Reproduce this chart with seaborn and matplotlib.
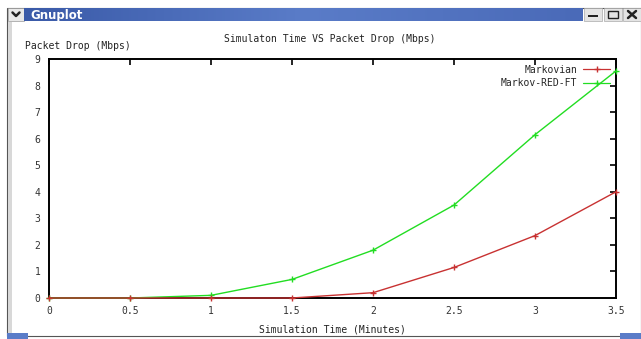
import matplotlib

matplotlib.use("Agg")

import matplotlib.pyplot as plt
import numpy as np
import pandas as pd
import seaborn as sns
from matplotlib.patches import Rectangle

# values
sim_time = [0, 0.5, 1, 1.5, 2, 2.5, 3, 3.5]
markovian = [0, 0, 0, 0, 0.2, 1.15, 2.35, 4.0]
markov_red_ft = [0, 0, 0.1, 0.7, 1.8, 3.5, 6.15, 8.55]
series_names = ["Markovian", "Markov-RED-FT"]
x_ticks = [0, 0.5, 1, 1.5, 2, 2.5, 3, 3.5]
y_ticks = list(range(10))

W, H = 641, 339
MONO = "DejaVu Sans Mono"

sns.set_style("white")
plt.rcParams["font.family"] = [MONO, "DejaVu Sans"]

df = pd.DataFrame(
    {
        "time": sim_time * 2,
        "drop": markovian + markov_red_ft,
        "series": [series_names[0]] * len(sim_time) + [series_names[1]] * len(sim_time),
    }
)

fig = plt.figure(figsize=(W / 100, H / 100), dpi=100)
fig.patch.set_facecolor("white")


def px_rect(x0, y0, x1, y1, zorder=-5, **kw):
    # rectangle in pixel coords (y from top), kept behind the axes
    fig.patches.append(
        Rectangle((x0 / W, 1 - y1 / H), (x1 - x0) / W, (y1 - y0) / H,
                  transform=fig.transFigure, figure=fig, zorder=zorder, **kw)
    )


def px_line(xs, ys, **kw):
    fig.lines.append(
        plt.Line2D([x / W for x in xs], [1 - y / H for y in ys],
                   transform=fig.transFigure, figure=fig, **kw)
    )


# window frame
px_rect(7, 8, 641, 336, zorder=-10, facecolor="white", edgecolor="#555555", lw=0.8)
px_rect(8, 22, 12, 335, facecolor="#d8d8d8", edgecolor="none")
grad = np.linspace(0, 1, 256).reshape(1, -1)
bar_ax = fig.add_axes([24 / W, 1 - 21 / H, (583 - 24) / W, 13 / H])
bar_ax.imshow(grad, aspect="auto", cmap=matplotlib.colors.LinearSegmentedColormap.from_list(
    "tb", ["#3a5aa8", "#5a7cc8", "#4a6ab8"]))
bar_ax.axis("off")
fig.text(30 / W, 1 - 15 / H, "Gnuplot", color="white", fontsize=8.5,
         fontweight="bold", family="DejaVu Sans", va="center")
px_rect(8, 8, 24, 21, facecolor="#e8e8e8", edgecolor="#999999", lw=0.5)
px_line([12.5, 16, 19.5], [12.5, 16, 12.5], color="#222222", lw=1.8)
for bx in (584, 604, 623):
    px_rect(bx, 8, bx + 18, 21, facecolor="#e4e4e4", edgecolor="#aaaaaa", lw=0.5)
px_rect(588, 15, 598, 17, zorder=1, facecolor="#222222", edgecolor="none")
px_rect(608, 11, 618, 18, zorder=1, facecolor="none", edgecolor="#222222", lw=1.0)
px_line([628, 636], [11, 18], color="#222222", lw=1.8)
px_line([628, 636], [18, 11], color="#222222", lw=1.8)
px_rect(7, 333, 28, 339, facecolor="#5a7cc8", edgecolor="none")
px_rect(620, 333, 641, 339, facecolor="#5a7cc8", edgecolor="none")

# plot area
left, right, top, bottom = 49, 616, 59, 298
ax = fig.add_axes([left / W, 1 - bottom / H, (right - left) / W, (bottom - top) / H])
ax.set_facecolor("white")

palette = {series_names[0]: "#c83232", series_names[1]: "#22dd22"}
sns.lineplot(data=df, x="time", y="drop", hue="series", palette=palette,
             marker="+", markersize=5, markeredgewidth=1.0, linewidth=1.0,
             ax=ax, legend=False)
# seaborn gives markers a white edge; gnuplot draws them in the line colour
for line in ax.get_lines():
    line.set_markeredgecolor(line.get_color())
    line.set_zorder(3)
    line.set_clip_on(False)
# red series is drawn on top of green in the reference
ax.get_lines()[0].set_zorder(3.5)

ax.set_xlim(0, 3.5)
ax.set_ylim(0, 9)
ax.set_xticks(x_ticks)
ax.set_xticklabels([f"{v:g}" for v in x_ticks])
ax.set_yticks(y_ticks)
ax.tick_params(direction="in", length=4, width=1.2, labelsize=7, colors="black",
               top=True, right=True, pad=6, labelcolor="#333333")
for s in ax.spines.values():
    s.set_visible(True)
    s.set_color("black")
    s.set_linewidth(1.4)
ax.set_xlabel("")
ax.set_ylabel("")

# legend like gnuplot
handles = [
    plt.Line2D([], [], color=palette[n], marker="+", markersize=4, lw=0.9)
    for n in series_names
]
leg = ax.legend(handles, series_names, loc="upper right", frameon=False,
                fontsize=7, markerfirst=False, handlelength=2.8,
                labelspacing=0.35, borderaxespad=0.2, handletextpad=0.6)
for t in leg.get_texts():
    t.set_ha("right")

fig.text(330 / W, 1 - 39 / H, "Simulaton Time VS Packet Drop (Mbps)",
         fontsize=7, ha="center", va="center", color="#222222")
fig.text(25 / W, 1 - 46 / H, "Packet Drop (Mbps)", fontsize=7,
         ha="left", va="center", color="#222222")
fig.text(332 / W, 1 - 329 / H, "Simulation Time (Minutes)", fontsize=7,
         ha="center", va="center", color="#222222")

fig.savefig("out.png", dpi=100)
